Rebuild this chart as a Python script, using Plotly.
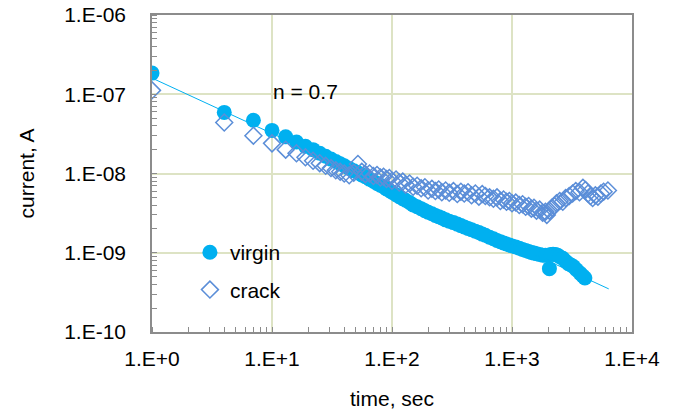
import plotly.graph_objects as go

virgin_t = [1, 4, 7, 10, 13, 16, 19, 22, 25, 28, 31, 34, 37, 40, 44, 48, 52, 56, 60, 65,
            70, 75, 80, 85, 90, 95, 100, 108, 115, 123, 130, 140, 150, 162, 175, 188, 200,
            215, 230, 245, 260, 280, 300, 325, 350, 375, 400, 430, 460, 495, 530, 565, 600,
            650, 700, 750, 800, 850, 900, 950, 1000, 1075, 1150, 1225, 1300, 1375, 1450,
            1525, 1600, 1700, 1800, 1900, 2050, 2100, 2200, 2300, 2400, 2500, 2650, 2800,
            2950, 3100, 3250, 3450, 3700, 3900, 4050]
virgin_i = [1.85e-7, 5.9e-8, 4.7e-8, 3.5e-8, 2.9e-8, 2.5e-8, 2.2e-8, 2.0e-8, 1.8e-8, 1.65e-8,
            1.52e-8, 1.42e-8, 1.33e-8, 1.25e-8, 1.16e-8, 1.08e-8, 1.02e-8, 9.6e-9, 9.1e-9, 8.5e-9,
            8.0e-9, 7.5e-9, 7.1e-9, 6.8e-9, 6.4e-9, 6.1e-9, 5.8e-9, 5.4e-9, 5.1e-9, 4.8e-9,
            4.6e-9, 4.3e-9, 4.0e-9, 3.8e-9, 3.6e-9, 3.4e-9, 3.25e-9, 3.1e-9, 2.95e-9, 2.85e-9,
            2.75e-9, 2.6e-9, 2.5e-9, 2.4e-9, 2.3e-9, 2.2e-9, 2.12e-9, 2.03e-9, 1.95e-9, 1.87e-9,
            1.8e-9, 1.72e-9, 1.66e-9, 1.57e-9, 1.5e-9, 1.43e-9, 1.38e-9, 1.33e-9, 1.29e-9, 1.25e-9,
            1.22e-9, 1.18e-9, 1.14e-9, 1.1e-9, 1.07e-9, 1.04e-9, 1.01e-9, 9.9e-10, 9.7e-10, 9.5e-10,
            9.3e-10, 9.3e-10, 6.3e-10, 9.5e-10, 9.6e-10, 9.5e-10, 9.3e-10, 8.9e-10, 8.5e-10, 7.8e-10,
            7.3e-10, 7.0e-10, 6.7e-10, 6.1e-10, 5.5e-10, 5.1e-10, 4.8e-10]

crack_t = [1, 4, 7, 10, 13, 16, 19, 22, 25, 28, 31, 34, 37, 40, 44, 48, 52, 56, 60, 65,
           70, 75, 80, 85, 90, 95, 100, 108, 115, 123, 130, 140, 150, 162, 175, 188, 200,
           215, 230, 245, 260, 280, 300, 325, 350, 375, 400, 430, 460, 495, 530, 565, 600,
           650, 700, 750, 800, 850, 900, 950, 1000, 1075, 1150, 1225, 1300, 1375, 1450,
           1525, 1600, 1700, 1800, 1900, 1950, 2050, 2150, 2250, 2350, 2500, 2650, 2800,
           3000, 3200, 3400, 3650, 3900, 4100, 4300, 4500, 4700, 4950, 5200, 5500, 5800, 6300]
crack_i = [1.12e-7, 4.4e-8, 3.0e-8, 2.4e-8, 2.0e-8, 1.8e-8, 1.6e-8, 1.45e-8, 1.35e-8, 1.25e-8,
           1.17e-8, 1.1e-8, 1.05e-8, 1.0e-8, 9.5e-9, 1.02e-8, 1.32e-8, 1.05e-8, 9.8e-9, 1.0e-8,
           9.3e-9, 9.6e-9, 8.9e-9, 9.1e-9, 8.5e-9, 8.8e-9, 8.1e-9, 8.4e-9, 7.7e-9, 7.9e-9,
           7.2e-9, 7.5e-9, 6.8e-9, 7.0e-9, 6.5e-9, 6.7e-9, 6.1e-9, 6.4e-9, 6.0e-9, 6.3e-9,
           5.8e-9, 6.1e-9, 5.7e-9, 6.0e-9, 5.5e-9, 5.9e-9, 5.6e-9, 5.8e-9, 5.3e-9, 5.6e-9,
           5.1e-9, 5.5e-9, 5.2e-9, 5.0e-9, 4.8e-9, 5.0e-9, 4.5e-9, 4.7e-9, 4.4e-9, 4.5e-9,
           4.2e-9, 4.3e-9, 4.0e-9, 4.1e-9, 3.8e-9, 3.9e-9, 3.6e-9, 3.7e-9, 3.4e-9, 3.5e-9,
           3.2e-9, 3.3e-9, 3.0e-9, 3.4e-9, 3.7e-9, 3.9e-9, 4.2e-9, 4.5e-9, 4.4e-9, 4.9e-9,
           5.2e-9, 5.6e-9, 6.0e-9, 5.8e-9, 6.6e-9, 6.2e-9, 5.6e-9, 5.2e-9, 4.9e-9, 5.3e-9,
           5.1e-9, 5.6e-9, 5.9e-9, 6.1e-9]

fit_t = [1, 6400]
fit_i = [1.6e-7, 3.5e-10]

x_tickvals = [1, 10, 100, 1000, 10000]
x_ticktext = ["1.E+0", "1.E+1", "1.E+2", "1.E+3", "1.E+4"]
y_tickvals = [1e-10, 1e-9, 1e-8, 1e-7, 1e-6]
y_ticktext = ["1.E-10", "1.E-09", "1.E-08", "1.E-07", "1.E-06"]

FONT = "Liberation Sans, Arial, sans-serif"
FS = 21
AXIS_GRAY = "#8c8c8c"
GRID = "#dde3c4"

fig = go.Figure()
fig.add_trace(go.Scatter(x=virgin_t, y=virgin_i, mode="markers", name="virgin",
                         legendgroup="v",
                         marker=dict(symbol="circle", size=15, color="#00b0f0")))
fig.add_trace(go.Scatter(x=fit_t, y=fit_i, mode="lines", showlegend=False,
                         line=dict(color="#00b0f0", width=1)))
fig.add_trace(go.Scatter(x=crack_t, y=crack_i, mode="markers", name="crack",
                         legendgroup="c",
                         marker=dict(symbol="diamond-open", size=13, color="#5b8ed8",
                                     line=dict(width=1.5, color="#5b8ed8"))))

fig.add_annotation(x=1.275, y=-6.96, xref="x", yref="y", text="n = 0.7", showarrow=False,
                   xanchor="center", yanchor="middle",
                   font=dict(family=FONT, size=FS, color="#000"))

axis_common = dict(
    type="log", showline=True, linecolor=AXIS_GRAY, linewidth=1.5, mirror=True,
    showgrid=True, gridcolor=GRID, gridwidth=1.5, ticks="", zeroline=False,
    tickfont=dict(family=FONT, size=FS, color="#000"),
    minor=dict(ticks="inside", ticklen=5, tickcolor=AXIS_GRAY, tickwidth=1,
               dtick="D1", showgrid=False),
)

fig.update_xaxes(range=[0, 4], tickmode="array", tickvals=x_tickvals, ticktext=x_ticktext,
                 title=dict(text="time, sec", font=dict(family=FONT, size=FS, color="#000"),
                            standoff=22),
                 ticklabelstandoff=7, **axis_common)
fig.update_yaxes(range=[-10, -6], tickmode="array", tickvals=y_tickvals, ticktext=y_ticktext,
                 title=dict(text="current, A", font=dict(family=FONT, size=FS, color="#000"),
                            standoff=24),
                 ticklabelstandoff=20, **axis_common)

fig.update_layout(
    width=677, height=412,
    margin=dict(l=152, r=45, t=15, b=80, autoexpand=False),
    paper_bgcolor="white", plot_bgcolor="white",
    font=dict(family=FONT, size=FS, color="#000"),
    legend=dict(x=0.079, y=0.315, xanchor="left", yanchor="top",
                bgcolor="rgba(0,0,0,0)", font=dict(family=FONT, size=FS, color="#000"),
                traceorder="grouped", tracegroupgap=7, itemsizing="trace", itemwidth=30),
    showlegend=True,
)

fig.write_html("out.html")
